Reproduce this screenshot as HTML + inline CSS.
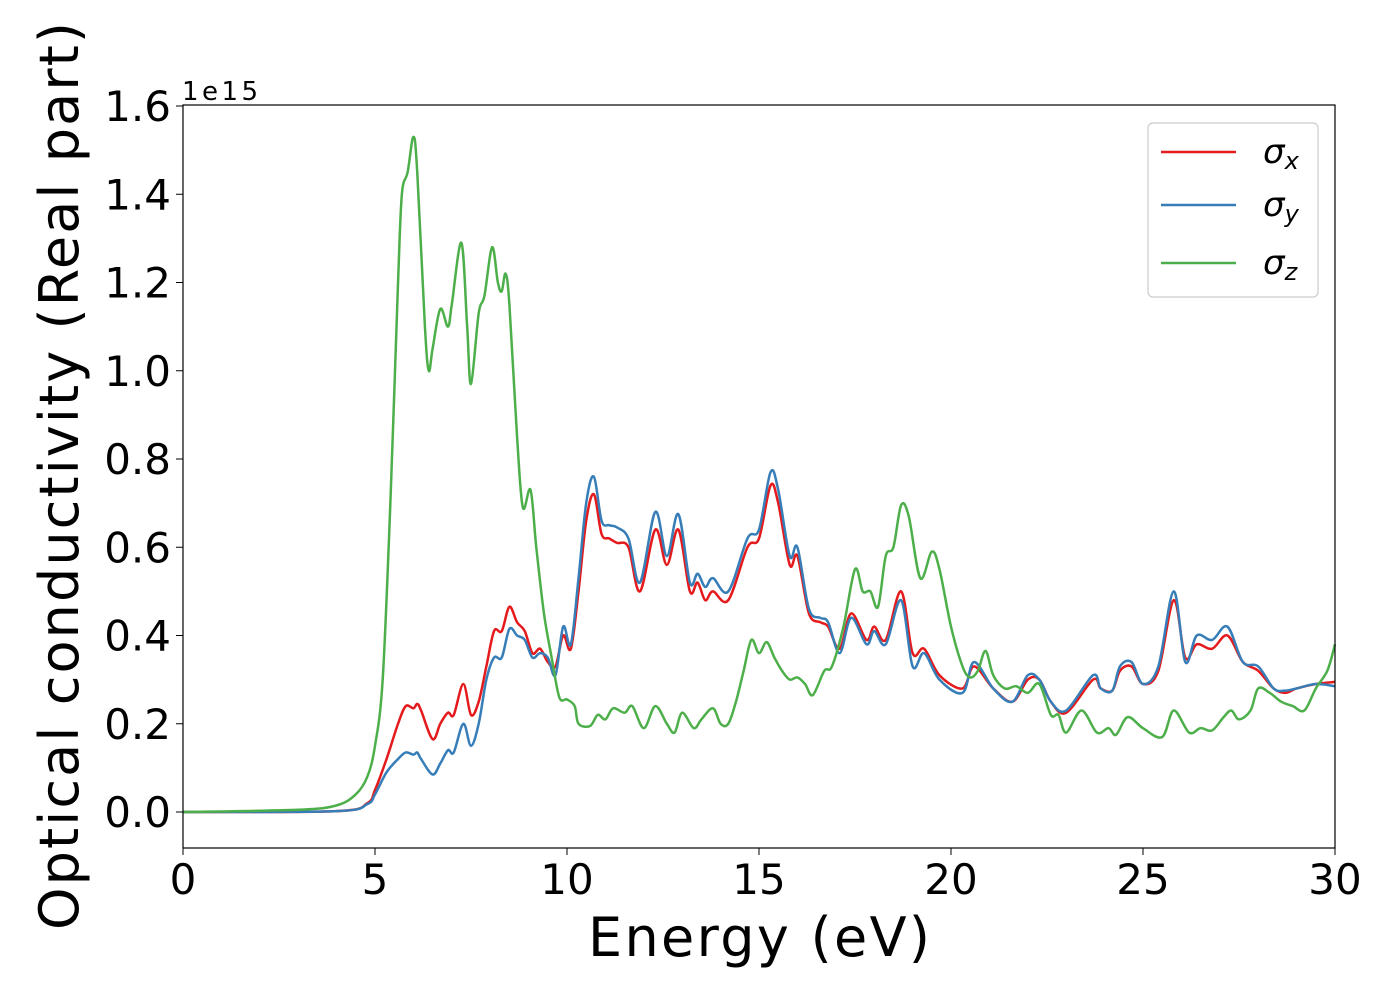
<!DOCTYPE html>
<html><head><meta charset="utf-8"><style>
body{margin:0;background:#fff;}
svg{display:block;font-family:"DejaVu Sans","Liberation Sans",sans-serif;}
</style></head><body>
<svg id="chart" width="1400" height="1000" viewBox="0 0 1400 1000">
<rect x="0" y="0" width="1400" height="1000" fill="#fff"/>
<g id="ticks"></g>
<g id="series"></g>
<rect x="183" y="105" width="1152" height="743" fill="none" stroke="#000" stroke-width="1.2"/>
<text x="182" y="100" font-size="26" textLength="76">1e15</text>
<text x="759" y="956" font-size="54" text-anchor="middle" textLength="342">Energy (eV)</text>
<text transform="translate(78,476) rotate(-90)" font-size="54" text-anchor="middle" textLength="908">Optical conductivity (Real part)</text>
<g>
<rect x="1148" y="123" width="170" height="174" rx="5" fill="#fff" stroke="#ccc" stroke-width="1.2"/>
<line x1="1161" y1="152" x2="1236" y2="152" stroke="#e41a1c" stroke-width="2.5"/>
<text x="1263" y="163" font-size="34" font-style="italic">σ<tspan font-size="24" dy="6">x</tspan></text>
<line x1="1161" y1="205" x2="1236" y2="205" stroke="#377eb8" stroke-width="2.5"/>
<text x="1263" y="216" font-size="34" font-style="italic">σ<tspan font-size="24" dy="6">y</tspan></text>
<line x1="1161" y1="263" x2="1236" y2="263" stroke="#4daf4a" stroke-width="2.5"/>
<text x="1263" y="274" font-size="34" font-style="italic">σ<tspan font-size="24" dy="6">z</tspan></text>
</g>
</svg>
<script>
const xTicks=[0,5,10,15,20,25,30];
const yTicks=[0.0,0.2,0.4,0.6,0.8,1.0,1.2,1.4,1.6];
const zE=[0,3,4,4.5,4.8,5.0,5.2,5.4,5.6,5.7,5.85,6.0,6.1,6.3,6.4,6.5,6.7,6.9,7.0,7.25,7.4,7.5,7.7,7.85,8.05,8.2,8.3,8.4,8.5,8.7,8.85,9.05,9.2,9.4,9.6,9.8,10.0,10.2,10.3,10.6,10.8,11.0,11.2,11.5,11.7,12.0,12.3,12.6,12.8,13.0,13.3,13.5,13.8,14.0,14.2,14.4,14.6,14.8,15.0,15.2,15.4,15.6,15.8,16.0,16.2,16.4,16.7,16.9,17.2,17.5,17.7,17.9,18.1,18.3,18.5,18.7,18.9,19.2,19.5,19.7,20.0,20.3,20.5,20.7,20.9,21.1,21.4,21.7,22.0,22.3,22.6,22.8,23.0,23.4,23.8,24.1,24.3,24.6,25.0,25.5,25.8,26.2,26.5,26.8,27.1,27.3,27.5,27.8,28.0,28.3,28.6,28.9,29.2,29.5,29.8,30];
const zV=[0,0.005,0.015,0.04,0.08,0.15,0.3,0.7,1.2,1.4,1.45,1.53,1.45,1.1,1.0,1.05,1.14,1.1,1.15,1.29,1.1,0.97,1.13,1.17,1.28,1.2,1.18,1.22,1.15,0.85,0.69,0.73,0.6,0.45,0.35,0.26,0.255,0.24,0.2,0.195,0.22,0.21,0.235,0.225,0.24,0.19,0.24,0.2,0.18,0.225,0.19,0.21,0.235,0.2,0.2,0.25,0.32,0.39,0.36,0.385,0.35,0.32,0.3,0.305,0.29,0.265,0.32,0.33,0.42,0.55,0.5,0.5,0.465,0.58,0.6,0.695,0.67,0.53,0.59,0.55,0.42,0.33,0.305,0.32,0.365,0.31,0.28,0.285,0.27,0.29,0.22,0.22,0.18,0.23,0.18,0.19,0.175,0.215,0.19,0.17,0.23,0.18,0.19,0.185,0.215,0.23,0.21,0.23,0.28,0.27,0.25,0.24,0.23,0.28,0.32,0.38];
const xyE=[0,4,4.8,5.0,5.3,5.6,5.8,6.0,6.1,6.2,6.5,6.7,6.9,7.05,7.3,7.5,7.7,7.9,8.1,8.3,8.5,8.7,8.9,9.1,9.3,9.5,9.7,9.9,10.1,10.3,10.5,10.7,10.9,11.1,11.3,11.6,11.9,12.3,12.6,12.9,13.2,13.4,13.6,13.8,14.2,14.7,15.0,15.3,15.5,15.8,16.0,16.3,16.6,16.8,17.1,17.4,17.8,18.0,18.3,18.7,19.0,19.3,19.7,20.3,20.6,21.1,21.6,22.0,22.3,22.6,23.0,23.7,23.9,24.2,24.4,24.7,25.0,25.4,25.8,26.1,26.4,26.8,27.2,27.6,28.0,28.4,28.7,29.0,29.5,30];
const xV=[0,0.002,0.02,0.05,0.12,0.2,0.24,0.235,0.245,0.23,0.165,0.2,0.225,0.22,0.29,0.22,0.25,0.33,0.41,0.41,0.465,0.43,0.41,0.36,0.37,0.34,0.33,0.4,0.37,0.5,0.66,0.72,0.63,0.62,0.61,0.6,0.5,0.64,0.56,0.64,0.5,0.52,0.48,0.5,0.48,0.6,0.62,0.74,0.7,0.56,0.58,0.45,0.43,0.42,0.37,0.45,0.39,0.42,0.39,0.5,0.36,0.37,0.31,0.28,0.33,0.28,0.25,0.3,0.3,0.25,0.225,0.3,0.28,0.275,0.32,0.33,0.29,0.32,0.48,0.35,0.38,0.37,0.4,0.34,0.32,0.28,0.27,0.28,0.29,0.295];
const yV=[0,0.002,0.018,0.04,0.09,0.12,0.135,0.13,0.135,0.12,0.085,0.11,0.14,0.135,0.2,0.15,0.2,0.3,0.35,0.35,0.415,0.4,0.39,0.35,0.36,0.35,0.31,0.42,0.38,0.53,0.7,0.76,0.66,0.65,0.645,0.62,0.52,0.68,0.58,0.675,0.52,0.54,0.51,0.53,0.5,0.62,0.64,0.77,0.73,0.58,0.6,0.46,0.44,0.43,0.36,0.44,0.38,0.41,0.38,0.48,0.33,0.36,0.3,0.27,0.34,0.28,0.25,0.31,0.3,0.25,0.23,0.31,0.28,0.275,0.33,0.34,0.29,0.33,0.5,0.34,0.4,0.39,0.42,0.34,0.33,0.28,0.275,0.28,0.29,0.285];
const NS='http://www.w3.org/2000/svg';
const xs=e=>183+e*1152/30;
const ys=v=>812-v*441.25;
const tg=document.getElementById('ticks');
xTicks.forEach(t=>{
 const l=document.createElementNS(NS,'line');
 
 
 l.setAttribute('x1',xs(t));l.setAttribute('x2',xs(t));l.setAttribute('y1',848);l.setAttribute('y2',855);l.setAttribute('stroke','#000');
 tg.appendChild(l);
 const tx=document.createElementNS(NS,'text');
 
 
 tx.setAttribute('x',xs(t));tx.setAttribute('y',894);tx.setAttribute('font-size','42');tx.setAttribute('text-anchor','middle');
 tx.textContent=t;tg.appendChild(tx);
});
yTicks.forEach(t=>{
 const l=document.createElementNS(NS,'line');
 
 
 l.setAttribute('x1',176);l.setAttribute('x2',183);l.setAttribute('y1',ys(t));l.setAttribute('y2',ys(t));l.setAttribute('stroke','#000');
 tg.appendChild(l);
 const tx=document.createElementNS(NS,'text');
 
 
 tx.setAttribute('x',171);tx.setAttribute('y',ys(t)+15);tx.setAttribute('font-size','42');tx.setAttribute('text-anchor','end');
 tx.textContent=t.toFixed(1);tg.appendChild(tx);
});
function path(E,V){
 const p=E.map((e,i)=>[xs(e),ys(V[i])]);
 let d='M'+p[0][0]+','+p[0][1];
 for(let i=0;i<p.length-1;i++){
  const p0=p[Math.max(0,i-1)],p1=p[i],p2=p[i+1],p3=p[Math.min(p.length-1,i+2)];
  const c1x=p1[0]+(p2[0]-p0[0])/6,c1y=p1[1]+(p2[1]-p0[1])/6;
  const c2x=p2[0]-(p3[0]-p1[0])/6,c2y=p2[1]-(p3[1]-p1[1])/6;
  d+=' C'+c1x+','+c1y+' '+c2x+','+c2y+' '+p2[0]+','+p2[1];
 }
 return d;
}
const sg=document.getElementById('series');
[['series-sigma-x',xyE,xV,'#e41a1c'],['series-sigma-y',xyE,yV,'#377eb8'],['series-sigma-z',zE,zV,'#4daf4a']].forEach(s=>{
 const p=document.createElementNS(NS,'path');
 
 
 p.setAttribute('d',path(s[1],s[2]));p.setAttribute('fill','none');p.setAttribute('stroke',s[3]);p.setAttribute('stroke-width','2.5');
 sg.appendChild(p);
});
</script>
</body></html>
